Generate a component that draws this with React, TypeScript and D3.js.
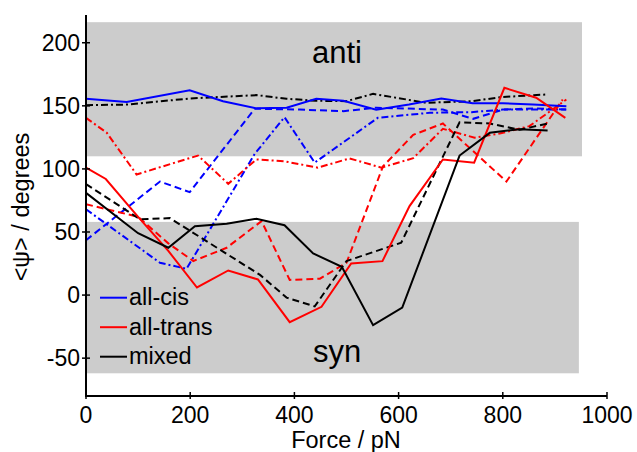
import React from "react";
import * as d3 from "d3";

const xTicks = [0, 200, 400, 600, 800, 1000];
const yTicks = [-50, 0, 50, 100, 150, 200];

const cisSolidX = [0, 78, 199, 263, 327, 385, 442, 494, 557, 620, 682, 742, 800, 858, 922];
const cisSolidY = [155.6, 153, 162.4, 153.7, 148, 148.5, 155.6, 154, 147, 151, 155.8, 152, 152, 151, 149.7];
const cisDashedX = [0, 142, 199, 324, 410, 494, 557, 685, 743, 800, 860, 922];
const cisDashedY = [43.5, 90, 81.6, 147.7, 147, 145.8, 148.5, 147, 139.7, 147, 148, 147];
const cisDashDotX = [0, 142, 193, 324, 381, 439, 560, 660, 740, 800, 860, 922];
const cisDashDotY = [68, 25.6, 20.8, 112, 141, 105, 140.5, 144.5, 145, 147, 147, 147];

const transSolidX = [0, 38, 100, 158, 213, 273, 330, 391, 452, 509, 569, 621, 685, 745, 803, 864, 920];
const transSolidY = [101, 92, 62, 35, 6, 19.5, 12.4, -21.5, -9.3, 25, 26.9, 70.5, 107.5, 104.9, 164.3, 156.4, 140.5];
const transDashedX = [0, 100, 158, 206, 270, 337, 391, 449, 500, 570, 628, 685, 807, 915];
const transDashedY = [72, 62, 41, 27, 37.5, 58.6, 12, 13, 25.6, 102, 127, 136, 90, 155];
const transDashDotX = [0, 40, 97, 215, 273, 327, 381, 445, 506, 567, 628, 685, 746, 794, 851, 922];
const transDashDotY = [140.5, 128.6, 95.6, 110.6, 88.2, 107.5, 106, 101, 108.3, 101, 108.5, 131.8, 124.7, 128, 133.9, 155];

const mixedSolidX = [0, 100, 158, 209, 270, 327, 381, 436, 491, 551, 607, 717, 775, 832, 886];
const mixedSolidY = [81, 49, 37.5, 54.6, 56.5, 60.5, 55.4, 33, 22.4, -23.9, -10, 110.6, 128.6, 131.5, 130.5];
const mixedDashedX = [0, 104, 161, 334, 385, 439, 500, 605, 717, 775, 832, 886];
const mixedDashedY = [88, 60, 61, 16, -2, -9, 27, 41.5, 137, 136, 131, 136];
const mixedDashDotX = [0, 78, 199, 327, 385, 442, 500, 551, 653, 740, 800, 883];
const mixedDashDotY = [150.5, 151, 155.8, 158.5, 155.6, 154, 153.7, 159.5, 152.4, 153.7, 157, 159];

const legendLabels = ["all-cis", "all-trans", "mixed"];
const legendColors = ["#0000ff", "#ff0000", "#000000"];

const bands = [
  { label: "anti", lo: 110, hi: 216.3, xEnd: 952 },
  { label: "syn", lo: -62, hi: 58, xEnd: 946 },
];

const FONT = "'Liberation Sans', Arial, sans-serif";

export default function App() {
  const W = 637, H = 452;
  const x = d3.scaleLinear().domain([0, 1000]).range([86, 607]);
  const y = d3.scaleLinear().domain([-80, 222]).range([396, 15]);
  const line = d3.line<[number, number]>().x(d => x(d[0])).y(d => y(d[1]));
  const mk = (xs: number[], ys: number[]) => xs.map((v, i) => [v, ys[i]] as [number, number]);

  const DASH = "7,4";
  const DASHDOT = "7,3,2,3";
  const series = [
    { d: mk(cisDashedX, cisDashedY), c: legendColors[0], dash: DASH },
    { d: mk(cisDashDotX, cisDashDotY), c: legendColors[0], dash: DASHDOT },
    { d: mk(transDashedX, transDashedY), c: legendColors[1], dash: DASH },
    { d: mk(transDashDotX, transDashDotY), c: legendColors[1], dash: DASHDOT },
    { d: mk(mixedDashedX, mixedDashedY), c: legendColors[2], dash: DASH },
    { d: mk(mixedDashDotX, mixedDashDotY), c: legendColors[2], dash: DASHDOT },
    { d: mk(cisSolidX, cisSolidY), c: legendColors[0], dash: undefined },
    { d: mk(transSolidX, transSolidY), c: legendColors[1], dash: undefined },
    { d: mk(mixedSolidX, mixedSolidY), c: legendColors[2], dash: undefined },
  ];

  return (
    <svg width={W} height={H} style={{ position: "absolute", left: 0, top: 0, background: "#fff" }} fontFamily={FONT}>
      {bands.map(b => (
        <rect key={b.label} x={x(0)} y={y(b.hi)} width={x(b.xEnd) - x(0)} height={y(b.lo) - y(b.hi)} fill="#cccccc" />
      ))}
      <text x={312} y={63} fontSize={31}>anti</text>
      <text x={313} y={362} fontSize={31}>syn</text>
      {series.map((s, i) => (
        <path key={i} d={line(s.d) || ""} fill="none" stroke={s.c} strokeWidth={2} strokeDasharray={s.dash} />
      ))}
      {legendLabels.map((l, i) => (
        <g key={l}>
          <line x1={100} x2={127} y1={297.7 + i * 29.5} y2={297.7 + i * 29.5} stroke={legendColors[i]} strokeWidth={2} />
          <text x={129} y={305 + i * 29.5} fontSize={23.5}>{l}</text>
        </g>
      ))}
      <line x1={x(0)} x2={x(1000)} y1={396} y2={396} stroke="#000" strokeWidth={2} />
      <line x1={86} x2={86} y1={15} y2={397} stroke="#000" strokeWidth={2} />
      {xTicks.map(t => (
        <g key={t}>
          <line x1={x(t)} x2={x(t)} y1={392} y2={399} stroke="#000" strokeWidth={1.5} />
          <text x={x(t)} y={423} fontSize={23} textAnchor="middle">{t}</text>
        </g>
      ))}
      {yTicks.map(t => (
        <g key={t}>
          <line x1={82} x2={90} y1={y(t)} y2={y(t)} stroke="#000" strokeWidth={1.5} />
          <text x={80} y={y(t) + 8} fontSize={23} textAnchor="end">{t}</text>
        </g>
      ))}
      <text x={346} y={448} fontSize={23.5} textAnchor="middle">Force / pN</text>
      <text transform="translate(29,207) rotate(-90)" fontSize={23.5} textAnchor="middle">{"<ψ> / degrees"}</text>
    </svg>
  );
}
